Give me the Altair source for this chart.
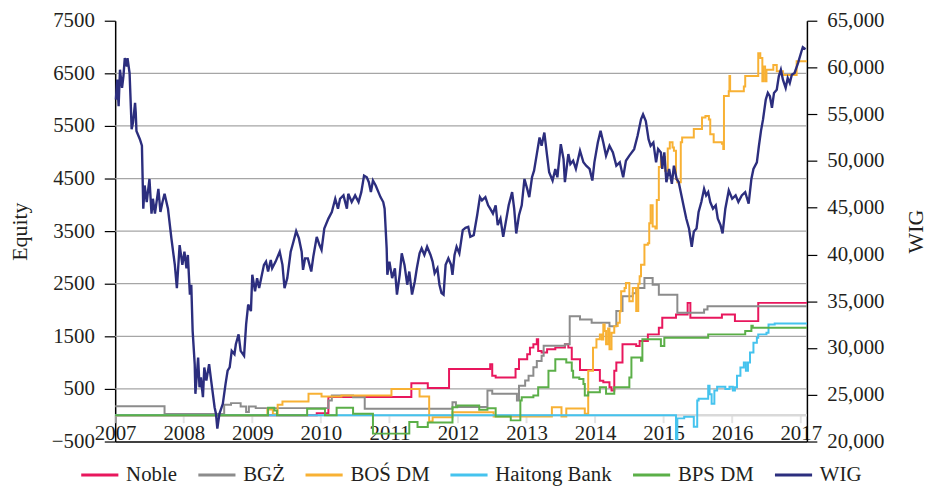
import altair as alt
import pandas as pd

FONT = "Liberation Serif"
TXT = "#231F20"

series_names = ["Noble", "BGŻ", "BOŚ DM", "Haitong Bank", "BPS DM", "WIG"]
series_colors = ["#E8175D", "#8C8C8C", "#F8B134", "#45C3EE", "#5BAF48", "#2C2E7E"]

year_ticks = [2007, 2008, 2009, 2010, 2011, 2012, 2013, 2014, 2015, 2016, 2017]
equity_ticks = [-500, 500, 1500, 2500, 3500, 4500, 5500, 6500, 7500]
grid_values = [500, 1500, 2500, 3500, 4500, 5500, 6500]
wig_ticks = [20000, 25000, 30000, 35000, 40000, 45000, 50000, 55000, 60000, 65000]

wig_year = [
    2007.01, 2007.03, 2007.05, 2007.07, 2007.10, 2007.12, 2007.14, 2007.17, 2007.18, 2007.21,
    2007.23, 2007.24, 2007.26, 2007.29, 2007.30, 2007.31, 2007.36, 2007.39, 2007.41, 2007.43,
    2007.46, 2007.50, 2007.53, 2007.55, 2007.58, 2007.63, 2007.66, 2007.69, 2007.72, 2007.77,
    2007.82, 2007.87, 2007.90, 2007.94, 2007.98, 2008.01, 2008.04, 2008.06, 2008.09, 2008.11,
    2008.13, 2008.16, 2008.17, 2008.21, 2008.23, 2008.25, 2008.28, 2008.30, 2008.33, 2008.37,
    2008.40, 2008.45, 2008.47, 2008.49, 2008.52, 2008.57, 2008.61, 2008.64, 2008.67, 2008.70,
    2008.74, 2008.76, 2008.80, 2008.83, 2008.88, 2008.91, 2008.94, 2008.98, 2009.00, 2009.04,
    2009.07, 2009.10, 2009.14, 2009.17, 2009.20, 2009.23, 2009.27, 2009.29, 2009.34, 2009.40,
    2009.44, 2009.47, 2009.51, 2009.56, 2009.60, 2009.64, 2009.68, 2009.72, 2009.74, 2009.77,
    2009.81, 2009.86, 2009.89, 2009.94, 2009.98, 2010.01, 2010.05, 2010.11, 2010.16, 2010.21,
    2010.25, 2010.28, 2010.33, 2010.38, 2010.40, 2010.45, 2010.50, 2010.55, 2010.59, 2010.63,
    2010.67, 2010.70, 2010.73, 2010.76, 2010.80, 2010.84, 2010.87, 2010.91, 2010.93, 2010.96,
    2010.97, 2011.00, 2011.04, 2011.08, 2011.11, 2011.15, 2011.18, 2011.22, 2011.26, 2011.29,
    2011.33, 2011.37, 2011.40, 2011.44, 2011.47, 2011.51, 2011.55, 2011.60, 2011.63, 2011.66,
    2011.70, 2011.73, 2011.76, 2011.79, 2011.82, 2011.86, 2011.90, 2011.92, 2011.95, 2011.98,
    2012.02, 2012.07, 2012.11, 2012.15, 2012.18, 2012.23, 2012.28, 2012.32, 2012.35, 2012.40,
    2012.44, 2012.47, 2012.51, 2012.55, 2012.58, 2012.62, 2012.66, 2012.69, 2012.74, 2012.79,
    2012.82, 2012.85, 2012.89, 2012.93, 2012.97, 2013.01, 2013.04, 2013.08, 2013.11, 2013.15,
    2013.19, 2013.22, 2013.26, 2013.30, 2013.33, 2013.38, 2013.42, 2013.45, 2013.50, 2013.54,
    2013.56, 2013.61, 2013.64, 2013.68, 2013.72, 2013.78, 2013.83, 2013.87, 2013.92, 2013.96,
    2013.99, 2014.04, 2014.08, 2014.12, 2014.16, 2014.21, 2014.26, 2014.31, 2014.36, 2014.41,
    2014.45, 2014.50, 2014.57, 2014.62, 2014.67, 2014.70, 2014.74, 2014.78, 2014.81, 2014.85,
    2014.89, 2014.92, 2014.96, 2014.98, 2015.01, 2015.04, 2015.08, 2015.12, 2015.15, 2015.19,
    2015.22, 2015.26, 2015.30, 2015.33, 2015.37, 2015.41, 2015.44, 2015.48, 2015.51, 2015.55,
    2015.59, 2015.62, 2015.65, 2015.68, 2015.72, 2015.76, 2015.79, 2015.83, 2015.86, 2015.90,
    2015.95, 2016.00, 2016.05, 2016.09, 2016.14, 2016.19, 2016.24, 2016.28, 2016.31, 2016.36,
    2016.39, 2016.42, 2016.45, 2016.49, 2016.52, 2016.55, 2016.58, 2016.61, 2016.65, 2016.68,
    2016.71, 2016.74, 2016.78, 2016.81, 2016.84, 2016.87, 2016.91, 2016.96, 2017.01, 2017.03,
    2017.07,
]
wig_value = [
    56570, 58700, 55870, 59760, 57820, 59060, 61000, 60120, 61000, 59400,
    55510, 53390, 54100, 56220, 55160, 53220, 52330, 51630, 44900, 47380,
    45610, 48080, 44370, 45960, 44370, 47020, 44550, 45610, 46490, 44900,
    41720, 38890, 36410, 41010, 38890, 40300, 38530, 39950, 35710, 36770,
    31810, 28280, 25100, 28980, 25800, 26860, 24740, 27920, 26510, 28280,
    26510, 23670, 22970, 21380, 22970, 24030, 26160, 27570, 27920, 29690,
    29340, 30400, 31460, 29690, 29160, 32520, 34650, 33940, 37830, 36060,
    37470, 36410, 37830, 38890, 39240, 38180, 39420, 38530, 39240, 40300,
    38890, 36410, 37470, 40300, 41360, 42500, 41720, 40300, 38360, 39590,
    39590, 38180, 39770, 41890, 41010, 40480, 42780, 43840, 44550, 45960,
    44900, 45960, 46320, 44900, 46490, 45610, 46320, 45610, 46670, 48440,
    48260, 47730, 46670, 47910, 47380, 46670, 46140, 45610, 44900, 40650,
    37830, 39240, 37470, 38530, 35710, 37830, 40120, 38890, 36770, 38180,
    35710, 37120, 38530, 40120, 40650, 39950, 40830, 39950, 39240, 38000,
    38530, 36770, 35880, 35710, 38890, 39590, 38890, 37830, 39950, 40830,
    40120, 42610, 42850, 42960, 41890, 42070, 44200, 46140, 45790, 46140,
    45260, 44900, 44370, 45260, 43140, 43840, 41890, 43140, 45260, 46670,
    44900, 42250, 44200, 45260, 48080, 47020, 46140, 48260, 48970, 50740,
    52510, 51630, 53040, 50570, 48790, 47910, 49150, 48260, 51800, 50210,
    47730, 50740, 49680, 50030, 49150, 51100, 49860, 49500, 49150, 47910,
    49860, 51980, 53220, 51980, 50570, 51630, 50920, 49500, 49860, 48260,
    50030, 50570, 51270, 52690, 54450, 54980, 54280, 52330, 51630, 51980,
    49860, 51270, 50920, 49150, 50920, 47730, 49150, 47550, 49500, 48080,
    47730, 46320, 44900, 43840, 42780, 40830, 42430, 42780, 44550, 45610,
    47020, 46320, 46670, 45610, 44900, 45260, 43840, 43140, 42250, 44900,
    46850, 45960, 46320, 45610, 46320, 46670, 45430, 48080, 49150, 49860,
    51630, 53220, 54450, 56570, 57280, 56930, 55690, 57280, 57630, 59060,
    59760, 58700, 57810, 58880, 58350, 59230, 59410, 60470, 61710, 62170,
    61950,
]

noble_year = [2007.00, 2009.94, 2010.11, 2011.32, 2011.56, 2011.87, 2012.47, 2012.50, 2012.55,
              2012.84, 2012.89, 2013.01, 2013.05, 2013.10, 2013.15, 2013.17, 2013.22, 2013.30,
              2013.42, 2013.56, 2013.61, 2013.66, 2013.78, 2014.07, 2014.12, 2014.21, 2014.24,
              2014.28, 2014.31, 2014.40, 2014.60, 2014.65, 2014.77, 2014.93, 2014.98, 2015.18,
              2015.35, 2015.39, 2015.85, 2016.04, 2016.38, 2017.09]
noble_value = [0, 40, 345, 606, 518, 877, 970, 750, 719,
               877, 1066, 1160, 1285, 1349, 1443, 1223, 1191, 1254,
               1285, 1349, 1285, 1066, 858, 656, 625, 530, 468,
               845, 1003, 1349, 1317, 1411, 1537, 1663, 1852, 1915,
               2136, 1852, 1915, 1789, 2136, 2136]

bgz_year = [2007.00, 2007.72, 2008.59, 2008.69, 2008.83, 2008.91, 2008.95, 2009.05, 2010.11,
            2010.16, 2010.47, 2010.64, 2011.92, 2011.97, 2012.43, 2012.50, 2012.86, 2012.89,
            2012.98, 2013.03, 2013.10, 2013.15, 2013.22, 2013.25, 2013.56, 2013.63, 2013.78,
            2013.95, 2014.21, 2014.31, 2014.40, 2014.55, 2014.60, 2014.72, 2014.84, 2014.93,
            2015.20, 2015.59, 2015.64, 2017.09]
bgz_value = [170, 25, 200, 230, 165, 60, 165, 135, 280,
             375, 340, 125, 245, 155, 470, 410, 280, 560,
             660, 750, 910, 1030, 1130, 1320, 1350, 1880, 1820,
             1760, 1690, 1980, 2260, 2320, 2420, 2610, 2480, 2290,
             1950, 2010, 2070, 2070]

bos_year = [2007.00, 2009.22, 2009.30, 2009.37, 2009.44, 2009.82, 2010.01, 2010.30, 2011.03,
            2011.44, 2011.58, 2011.63, 2011.92, 2012.52, 2013.37, 2013.51, 2013.58, 2013.85,
            2013.90, 2013.97, 2014.02, 2014.07, 2014.10, 2014.12, 2014.14, 2014.16, 2014.19,
            2014.21, 2014.24, 2014.28, 2014.33, 2014.36, 2014.38, 2014.43, 2014.45, 2014.50,
            2014.55, 2014.60, 2014.63, 2014.65, 2014.67, 2014.72, 2014.77, 2014.79, 2014.81,
            2014.84, 2014.88, 2014.90, 2014.93, 2014.96, 2015.02, 2015.06, 2015.09, 2015.13,
            2015.15, 2015.18, 2015.20, 2015.25, 2015.27, 2015.44, 2015.56, 2015.61, 2015.66,
            2015.68, 2015.73, 2015.85, 2015.87, 2015.88, 2015.95, 2015.96, 2015.97, 2016.17,
            2016.19, 2016.38, 2016.41, 2016.44, 2016.45, 2016.48, 2016.50, 2016.60, 2016.65,
            2016.74, 2016.94, 2017.09]
bos_value = [0, 110, 20, 200, 260, 406, 355, 374, 500,
             355, -120, -40, 58, -23, 150, -23, 130, 28,
             845, 1285, 1443, 1537, 1440, 1726, 1600, 1349, 1650,
             1254, 1568, 1694, 1757, 1977, 2355, 2418, 2513, 2166,
             2420, 1980, 2500, 2640, 2860, 3240, 3270, 3650, 3990,
             3590, 3550, 4090, 4720, 4910, 4650, 5070, 5190, 5090,
             5030, 4490, 4430, 5190, 5280, 5440, 5660, 5690, 5620,
             5340, 5190, 5160, 5060, 6070, 6160, 6450, 6160, 6250,
             6450, 6880, 6790, 6350, 6630, 6350, 6570, 6660, 6540,
             6470, 6730, 6730]

haitong_year = [2007.00, 2015.18, 2015.20, 2015.30, 2015.44, 2015.49, 2015.51, 2015.65, 2015.67,
                2015.70, 2015.74, 2015.78, 2015.90, 2015.96, 2016.01, 2016.04, 2016.07, 2016.12,
                2016.17, 2016.20, 2016.23, 2016.26, 2016.31, 2016.36, 2016.38, 2016.50, 2016.53,
                2016.62, 2017.09]
haitong_value = [0, -450, -60, -30, -220, 279, 311, 562, 400,
                 217, 468, 543, 500, 540, 470, 530, 751, 908,
                 1003, 845, 1003, 1191, 1380, 1474, 1537, 1568, 1726,
                 1745, 1745]

bps_year = [2007.00, 2009.23, 2009.32, 2009.36, 2009.80, 2010.06, 2010.23, 2010.47, 2010.76,
            2011.29, 2011.41, 2011.56, 2011.92, 2011.99, 2012.31, 2012.43, 2012.55, 2012.77,
            2012.91, 2012.93, 2013.10, 2013.17, 2013.32, 2013.42, 2013.58, 2013.66, 2013.68,
            2013.77, 2013.83, 2013.85, 2013.90, 2014.07, 2014.16, 2014.28, 2014.50, 2014.53,
            2014.67, 2014.69, 2014.96, 2015.01, 2015.65, 2016.19, 2016.28, 2016.30, 2017.09]
bps_value = [0, 140, 90, 0, 123, 0, 140, 28, -350,
             -130, -224, -140, 153, 185, 104, 134, -23, -98,
             279, 342, 374, 530, 845, 1066, 1003, 845, 719,
             688, 594, 374, 436, 530, 406, 530, 719, 1097,
             1034, 1443, 1317, 1474, 1537, 1600, 1700, 1663, 1663]


def frame(name, years, values):
    return pd.DataFrame({"year": years, "equity": values, "series": name})


x_scale = alt.Scale(domain=[2007, 2017.09], nice=False, zero=False)
x_axis = alt.Axis(values=year_ticks, format="d", title=None, grid=False, ticks=False,
                  domainColor="#000000", domainWidth=1.5, labelBaseline="alphabetic",
                  labelPadding=-2, labelFontSize=21, labelFlush=False, labelOverlap=False)
x_enc = alt.X("year:Q", scale=x_scale, axis=x_axis)

left_scale = alt.Scale(domain=[-500, 7500], nice=False, zero=False)
left_axis = alt.Axis(values=equity_ticks, format="d", title="Equity", grid=False,
                     tickSize=11, tickColor="#000000", tickWidth=1.2, labelPadding=10,
                     domainColor="#000000", domainWidth=1.5, titlePadding=20,
                     labelFontSize=21, titleFontSize=22)

right_scale = alt.Scale(domain=[20000, 65000], nice=False, zero=False)
right_axis = alt.Axis(orient="right", values=wig_ticks, format=",d", title="WIG", grid=False,
                      tickSize=10, tickColor="#000000", tickWidth=1.2, labelPadding=10,
                      domainColor="#000000", domainWidth=1.5, titlePadding=22, titleAngle=270,
                      titleBaseline="top", labelFontSize=21, titleFontSize=22)

legend = alt.Legend(title=None, orient="none", legendX=-36, legendY=437, direction="horizontal",
                    symbolType="stroke", symbolSize=1400, symbolStrokeWidth=3,
                    labelFont=FONT, labelFontSize=21, labelColor=TXT,
                    columnPadding=14, labelOffset=6)
color = alt.Color("series:N", scale=alt.Scale(domain=series_names, range=series_colors),
                  legend=legend)

grid = alt.Chart(pd.DataFrame({"g": grid_values})).mark_rule(
    color="#A6A6A6", strokeWidth=1.3
).encode(y=alt.Y("g:Q", scale=left_scale, axis=left_axis))

zero_line = alt.Chart(pd.DataFrame({"z": [0]})).mark_rule(
    color="#D9D9D9", strokeWidth=2.5
).encode(y=alt.Y("z:Q", scale=left_scale, axis=left_axis))

zero_ticks = alt.Chart(pd.DataFrame({"year": year_ticks, "z": [0] * len(year_ticks)})).mark_tick(
    orient="vertical", color="#D9D9D9", thickness=2, size=8, yOffset=4
).encode(x=x_enc, y=alt.Y("z:Q", scale=left_scale, axis=left_axis))


def step_layer(df):
    return alt.Chart(df).mark_line(interpolate="step-after", strokeWidth=2).encode(
        x=x_enc,
        y=alt.Y("equity:Q", scale=left_scale, axis=left_axis),
        color=color,
    )


left = alt.layer(
    grid, zero_line, zero_ticks,
    step_layer(frame("Noble", noble_year, noble_value)),
    step_layer(frame("BGŻ", bgz_year, bgz_value)),
    step_layer(frame("BOŚ DM", bos_year, bos_value)),
    step_layer(frame("Haitong Bank", haitong_year, haitong_value)),
    step_layer(frame("BPS DM", bps_year, bps_value)),
)

wig_df = pd.DataFrame({"year": wig_year, "wig": wig_value, "series": "WIG"})
wig_layer = alt.Chart(wig_df).mark_line(strokeWidth=2.4).encode(
    x=x_enc,
    y=alt.Y("wig:Q", scale=right_scale, axis=right_axis),
    color=color,
)

chart = alt.layer(left, wig_layer).resolve_scale(y="independent").properties(
    width=697, height=424, padding={"left": 0, "top": 0, "right": 0, "bottom": 0}
).configure_view(stroke=None).configure_axis(
    labelFont=FONT, titleFont=FONT, labelColor=TXT, titleColor=TXT, titleFontWeight="normal"
)

chart.save("out.html", embed_options={"renderer": "svg", "actions": False})
